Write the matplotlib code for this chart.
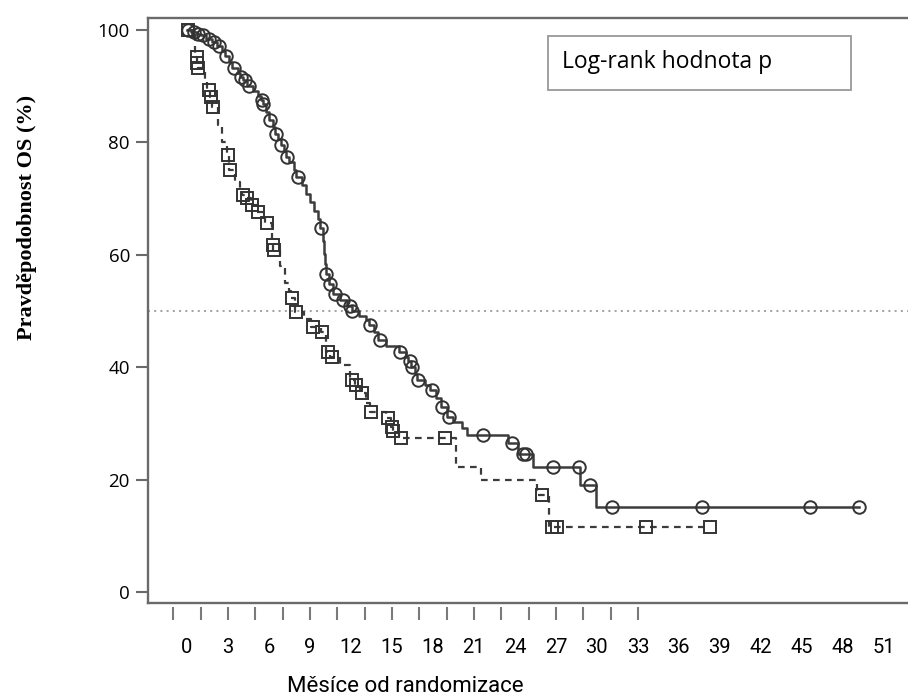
import numpy as np
import matplotlib.pyplot as plt
from matplotlib.patches import Rectangle

# Kaplan-Meier steps: (time in months, survival % from that time on)
circ_t = [0, 0.3, 0.7, 1.0, 1.4, 1.8, 2.2, 2.6, 2.8, 3.1, 3.3, 3.7, 3.9, 4.1, 4.4,
          4.8, 5.2, 5.45, 5.55, 5.8, 6.0, 6.3, 6.45, 6.7, 6.85, 7.1, 7.25, 7.5, 7.8,
          8.0, 8.4, 8.7, 9.0, 9.3, 9.6, 9.75, 9.95, 10.05, 10.12, 10.18, 10.4, 10.7,
          11.2, 11.7, 12.05, 12.6, 13.1, 13.3, 13.7, 14.0, 14.6, 15.5, 16.0, 16.2,
          16.4, 16.7, 16.85, 17.4, 17.8, 18.2, 18.6, 19.0, 19.5, 20.1, 20.5, 23.5,
          24.2, 25.3, 28.8, 29.9, 49.2]
circ_s = [100, 99.6, 99.3, 99, 98.4, 97.8, 97.2, 96.3, 95.4, 94.3, 93.2, 92.3, 91.6,
          91.1, 90, 89.2, 88.3, 87.5, 86.8, 85.4, 84, 82.7, 81.5, 80.5, 79.5, 78.4,
          77.4, 76.4, 75.1, 73.8, 72.4, 70.8, 69.3, 67.8, 66.3, 64.8, 62.5, 60.2,
          58.4, 56.6, 54.8, 53, 52, 50.9, 50, 49.1, 48.3, 47.5, 46.3, 44.8, 43.7,
          42.7, 41.8, 41, 40, 38.8, 37.7, 36.8, 35.9, 34.5, 32.9, 31.1, 30.2, 29.2,
          28, 26.5, 24.5, 22.2, 19, 15.2, 15.2]

# censor marks, circle group
circ_mt = [0.07, 0.5, 0.8, 1.17, 1.61, 2.0, 2.34, 2.85, 3.44, 3.95, 4.24, 4.54, 5.49,
           5.6, 6.1, 6.5, 6.9, 7.3, 8.1, 9.8, 10.2, 10.5, 10.8, 11.4, 11.9, 12.1,
           13.4, 14.1, 15.6, 16.3, 16.5, 16.9, 17.9, 18.7, 19.2, 21.7, 23.8, 24.6,
           24.8, 26.8, 28.7, 29.5, 31.1, 37.7, 45.6, 49.2]
circ_ms = [100, 99.6, 99.3, 99, 98.4, 97.8, 97.2, 95.4, 93.2, 91.6, 91.1, 90, 87.5,
           86.8, 84, 81.5, 79.5, 77.4, 73.8, 64.8, 56.6, 54.8, 53, 52, 50.9, 50,
           47.5, 44.8, 42.7, 41, 40, 37.7, 35.9, 32.9, 31.1, 28, 26.5, 24.5, 24.5,
           22.2, 22.2, 19, 15.2, 15.2, 15.2, 15.2]

sq_t = [0, 0.6, 0.7, 0.78, 1.3, 1.5, 1.7, 1.85, 2.3, 2.6, 2.9, 3.1, 3.5, 3.9, 4.05,
        4.35, 4.7, 5.1, 5.7, 6.2, 6.3, 6.8, 7.2, 7.5, 7.6, 7.9, 8.6, 9.1, 9.8, 10.2,
        10.5, 11.2, 11.9, 12.3, 12.7, 13.1, 13.4, 14.6, 14.9, 15.05, 15.5, 19.7,
        21.5, 25.6, 26.5, 38.3]
sq_s = [100, 95.2, 94.1, 93.2, 91, 89.3, 88.1, 86.3, 83, 80, 77.8, 75.1, 73, 71.5,
        70.6, 70.1, 68.9, 67.6, 65.7, 61.7, 60.9, 58, 55, 53.5, 52.3, 49.8, 48.5,
        47.2, 46.3, 42.7, 41.8, 40.3, 37.7, 36.8, 35.4, 33.6, 32, 31, 29.4, 28.6,
        27.4, 22.2, 20, 17.3, 11.6, 11.6]

# censor marks, square group
sq_mt = [0.07, 0.73, 0.75, 0.8, 1.61, 1.76, 1.9, 3.0, 3.15, 4.1, 4.4, 4.75, 5.2,
         5.85, 6.3, 6.36, 7.68, 7.97, 9.2, 9.9, 10.3, 10.6, 12.1, 12.4, 12.8, 13.5,
         14.7, 15.0, 15.1, 15.7, 18.9, 26.0, 26.7, 27.1, 33.6, 38.3]
sq_ms = [100, 95.2, 94.1, 93.2, 89.3, 88.1, 86.3, 77.8, 75.1, 70.6, 70.1, 68.9, 67.6,
         65.7, 61.7, 60.9, 52.3, 49.8, 47.2, 46.3, 42.7, 41.8, 37.7, 36.8, 35.4, 32,
         31, 29.4, 28.6, 27.4, 27.4, 17.3, 11.6, 11.6, 11.6, 11.6]

x_labels = [0, 3, 6, 9, 12, 15, 18, 21, 24, 27, 30, 33, 36, 39, 42, 45, 48, 51]
x_marks = [-1, 1, 3, 5, 7, 9, 11, 13, 15, 17, 19, 21, 23, 25, 27, 29, 31, 33]
y_ticks = [0, 20, 40, 60, 80, 100]

LINE = "#3c3c3c"
SPINE = "#6a6a6a"

fig = plt.figure(figsize=(9.08, 7.0), dpi=100)
ax = fig.add_axes([148 / 908, 97 / 700, 770 / 908, 585 / 700])
ax.set_xlim(-2.85, 53.5)
ax.set_ylim(-1.96, 102.1)

ax.axhline(50, color="#a0a0a0", lw=1.4, linestyle=(0, (1, 2.2)), zorder=1)

ax.step(circ_t, circ_s, where="post", color=LINE, lw=1.8, zorder=2)
ax.plot(circ_mt, circ_ms, "o", ms=9, mfc="none", mec="#333333", mew=1.4, zorder=3)

ax.step(sq_t, sq_s, where="post", color=LINE, lw=1.6, linestyle=(0, (3, 2.4)), zorder=2)
ax.plot(sq_mt, sq_ms, "s", ms=8, mfc="none", mec="#333333", mew=1.4, zorder=3)

for side in ["left", "bottom", "top"]:
    ax.spines[side].set_color(SPINE)
    ax.spines[side].set_linewidth(1.7)
ax.spines["right"].set_visible(False)

ax.set_yticks(y_ticks)
ax.tick_params(axis="y", direction="out", length=9, width=1.5, color=SPINE,
               labelsize=13.5, pad=4)
for lab in ax.get_yticklabels():
    lab.set_family(["Open Sans", "DejaVu Sans"])

ax.set_xticks(x_labels)
ax.tick_params(axis="x", length=0, pad=25, labelsize=14.5)
for lab in ax.get_xticklabels():
    lab.set_family(["Roboto", "DejaVu Sans"])

sec = ax.secondary_xaxis(-0.007)
sec.spines["bottom"].set_visible(False)
sec.set_xticks(x_marks)
sec.set_xticklabels([])
sec.tick_params(direction="out", length=9, width=1.5, color="#7a7a7a")

# p-value box
ax.add_patch(Rectangle((548 / 908 * 908 / 770 - 148 / 770, 1 - (90 - 18) / 585),
                       303 / 770, 54 / 585, transform=ax.transAxes,
                       fc="white", ec="#999999", lw=1.3, zorder=4))
ax.text((562 - 148) / 770, 1 - (62 - 18) / 585, "Log-rank hodnota p",
        transform=ax.transAxes, fontsize=16.5, family=["Open Sans", "DejaVu Sans"],
        va="center", ha="left", zorder=5)

fig.text(405 / 908, 1 - 687 / 700, "Měsíce od randomizace", fontsize=16,
         family=["Roboto", "DejaVu Sans"], ha="center", va="center")
fig.text(27 / 908, 1 - 217 / 700, "Pravděpodobnost OS (%)", fontsize=16,
         family=["Liberation Serif", "DejaVu Serif"], fontweight="bold",
         rotation=90, ha="center", va="center")

fig.savefig("out.png", dpi=100)
